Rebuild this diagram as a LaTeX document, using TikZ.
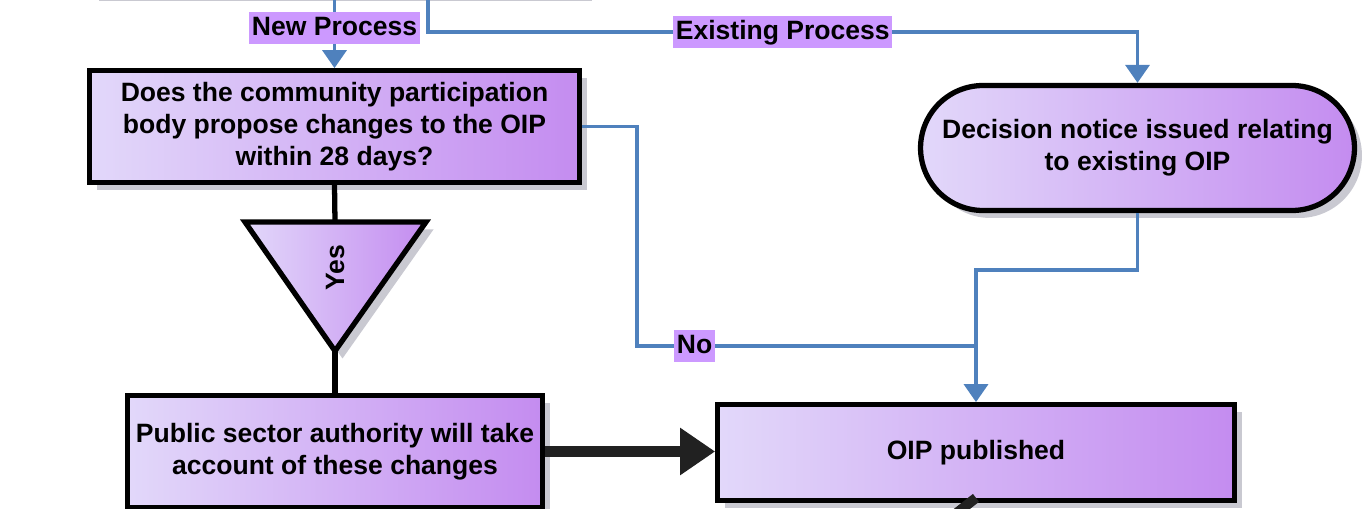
\documentclass[tikz,border=0pt]{standalone}
\usepackage{fontspec}
\setmainfont{Liberation Sans}
\usetikzlibrary{arrows.meta,shadows}
\definecolor{flowblue}{RGB}{79,129,189}
\definecolor{lblpurple}{RGB}{204,153,255}
\definecolor{boxlight}{RGB}{226,216,250}
\definecolor{boxdark}{RGB}{196,140,240}
\definecolor{shadowgray}{RGB}{165,165,178}
\newcommand{\flowfont}{\bfseries\fontsize{15.1pt}{18.2pt}\selectfont}
\tikzset{
  stepbox/.style={draw=black, line width=3pt, left color=boxlight, right color=boxdark,
    align=center, font=\flowfont,
    drop shadow={shadow xshift=0.15cm, shadow yshift=-0.15cm, fill=shadowgray, opacity=0.6}},
  lbl/.style={fill=lblpurple, inner xsep=1.5pt, inner ysep=2.3pt, text height=11pt, text depth=3pt, font=\flowfont},
  flow/.style={draw=flowblue, line width=2pt},
  flowarrow/.style={flow, -{Triangle[length=0.36cm,width=0.48cm]}},
  link/.style={draw=black, line width=3pt},
  bigarrow/.style={draw=black!87, line width=0.24cm, -{Triangle[length=0.7cm,width=0.9cm]}},
}
\begin{document}
\begin{tikzpicture}[x=0.02cm,y=-0.02cm]
      \useasboundingbox (0,0) rectangle (1362,509);
      \clip (0,0) rectangle (1362,509);
      % boxes
      \node[stepbox, minimum width=9.85cm, minimum height=2cm] (top) at (338,-56) {};
      \node[stepbox, minimum width=9.79cm, minimum height=2.23cm] (box1) at (334.5,126.5)
        {Does the community participation\\body propose changes to the OIP\\within 28 days?};
      \node[stepbox, rounded corners=1.25cm, minimum width=8.68cm, minimum height=2.5cm] (decision) at (1137.5,148)
        {Decision notice issued relating\\to existing OIP};
      \node[stepbox, minimum width=8.29cm, minimum height=2.23cm] (public) at (335,451.5)
        {Public sector authority will take\\account of these changes};
      \node[stepbox, minimum width=10.33cm, minimum height=1.91cm] (oip) at (976,452.5) {OIP published};
      \coordinate (yestop) at (335,222);
      \coordinate (yestip) at (335,351);
      \path[stepbox, line join=miter] (245,222) -- (426,222) -- (yestip) -- cycle;
      \node[font=\flowfont, rotate=90] (yes) at (335,268) {Yes};
      % black links
      \draw[link] (box1.south) -- (yestop);
      \draw[link] (yestip) -- (public.north);
      \draw[bigarrow] (public.east) -- (public.east -| oip.west);
      \coordinate (nextstep) at (935,530);
      \draw[draw=black!87, line width=0.2cm] ([yshift=0.1cm]oip.south) -- (nextstep);
      % blue connectors
      \coordinate (exbend) at (428,32);
      \coordinate (nobend) at (637,346);
      \coordinate (nojoin) at (976,346);
      \coordinate (decbend) at (976,270);
      \draw[flowarrow] (top.south -| box1.north) -- node[lbl, pos=0.44] {New Process} (box1.north);
      \draw[flowarrow] (top.south -| exbend) -- (exbend) -| node[lbl, pos=0.25] {Existing Process} (decision.north);
      \draw[flow] (box1.east) -| (nobend) -- node[lbl, pos=0.17] {No} (nojoin);
      \draw[flowarrow] (decision.south) |- (decbend) -- (oip.north);
\end{tikzpicture}
\end{document}
